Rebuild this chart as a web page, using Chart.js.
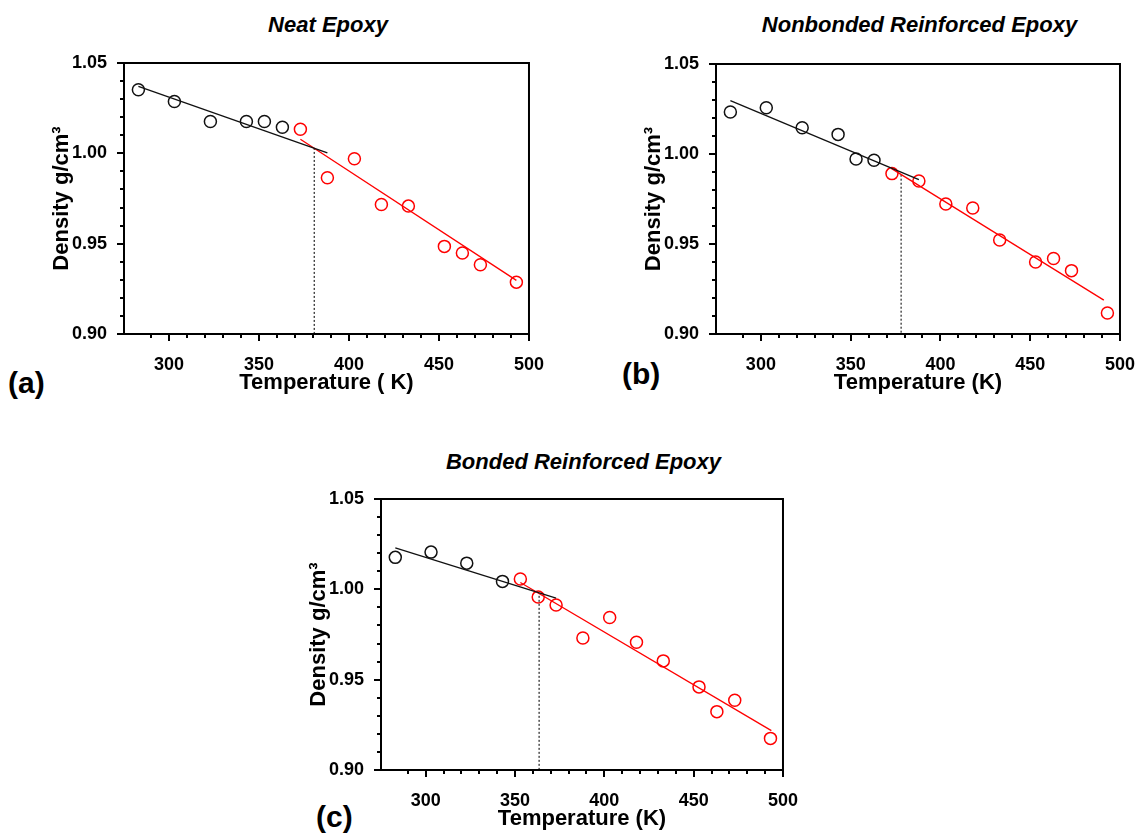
<!DOCTYPE html>
<html lang="en">
<head>
<meta charset="UTF-8">
<title>Density vs Temperature</title>
<script src="https://cdn.jsdelivr.net/npm/chart.js"></script>
<style>
  body { margin: 0; background: #fff; }
  #page { position: relative; width: 1141px; height: 837px; overflow: hidden; font-family: "Liberation Sans", Arial, sans-serif; }
  canvas { position: absolute; }
  .title { position: absolute; font-weight: bold; font-style: italic; font-size: 22px; line-height: 24px; text-align: center; }
  .tag { position: absolute; font-weight: bold; font-size: 30px; line-height: 1; }
</style>
</head>
<body>
<div id="page">
  <div class="title" style="left:124px; top:13px; width:408px">Neat Epoxy</div>
  <div class="title" style="left:716px; top:13px; width:407px">Nonbonded Reinforced Epoxy</div>
  <div class="title" style="left:381px; top:450px; width:405px">Bonded Reinforced Epoxy</div>
  <div class="tag" style="left:8px; top:368px">(a)</div>
  <div class="tag" style="left:622px; top:359px">(b)</div>
  <div class="tag" style="left:316px; top:802px">(c)</div>
  <canvas id="chartA"></canvas>
  <canvas id="chartB"></canvas>
  <canvas id="chartC"></canvas>
</div>

<script>
// temperatures (K) shared by all three samples
const temperature = [283, 303, 323, 343, 353, 363, 373, 388, 403, 418, 433, 453, 463, 473, 493];

// densities g/cm3
const neatDensity = [1.0352, 1.0287, 1.0176, 1.0176, 1.0176, 1.0144, 1.0133, 0.9865, 0.9970, 0.9717, 0.9708, 0.9485, 0.9448, 0.9383, 0.9287];
const nonbondedDensity = [1.0233, 1.0257, 1.0146, 1.0109, 0.9972, 0.9965, 0.9891, 0.9850, 0.9722, 0.9700, 0.9522, 0.9400, 0.9419, 0.9352, 0.9117];
const bondedDensity = [1.0177, 1.0206, 1.0145, 1.0044, 1.0057, 0.9957, 0.9913, 0.9731, 0.9844, 0.9707, 0.9604, 0.9460, 0.9323, 0.9386, 0.9175];

// number of leading points drawn black (glassy side)
const neatGlassyCount = 6;
const nonbondedGlassyCount = 6;
const bondedGlassyCount = 4;

// fitted line end points [T, density]
const neatGlassyFit = [[283, 1.0370], [388, 1.0003]];
const neatRubberyFit = [[373, 1.0078], [493, 0.9297]];
const nonbondedGlassyFit = [[283, 1.0296], [388, 0.9858]];
const nonbondedRubberyFit = [[372.6, 0.9920], [491, 0.9188]];
const bondedGlassyFit = [[283, 1.0230], [373, 0.9951]];
const bondedRubberyFit = [[353, 1.0038], [493.5, 0.9218]];

// Tg marker [T, density at the top of the dotted line]
const neatTg = [380.7, 1.0030];
const nonbondedTg = [378.1, 0.9885];
const bondedTg = [363.5, 0.9964];

const xTickLabels = [300, 350, 400, 450, 500];
const yTickLabels = [0.90, 0.95, 1.00, 1.05];

const FONT = '"Liberation Sans", Arial, sans-serif';

// box frame + outward ticks (major longer than minor)
const frameAndTicks = {
  id: 'frameAndTicks',
  afterDraw(chart) {
    const { ctx, chartArea: a, scales: { x, y } } = chart;
    ctx.save();
    ctx.strokeStyle = '#000';
    ctx.lineWidth = 2;
    ctx.strokeRect(a.left, a.top, a.right - a.left, a.bottom - a.top);
    ctx.beginPath();
    x.ticks.forEach(t => {
      const px = Math.round(x.getPixelForValue(t.value));
      ctx.moveTo(px, a.bottom);
      ctx.lineTo(px, a.bottom + (t.label ? 7 : 4));
    });
    y.ticks.forEach(t => {
      const py = Math.round(y.getPixelForValue(t.value));
      ctx.moveTo(a.left, py);
      ctx.lineTo(a.left - (t.label ? 7 : 4), py);
    });
    ctx.stroke();
    ctx.restore();
  }
};

function toPoints(list) {
  return list.map(p => ({ x: p[0], y: p[1] }));
}

function makePanel(id, box, xTitle, density, glassyCount, glassyFit, rubberyFit, tg) {
  const canvas = document.getElementById(id);
  const padL = 110, padT = 20, padR = 24, padB = 80;
  canvas.width = box.w + padL + padR;
  canvas.height = box.h + padT + padB;
  canvas.style.left = (box.x - padL) + 'px';
  canvas.style.top = (box.y - padT) + 'px';

  const pts = temperature.map((t, i) => ({ x: t, y: density[i] }));
  const circle = {
    showLine: false, pointStyle: 'circle', pointRadius: 6,
    pointBorderWidth: 1.5, backgroundColor: 'rgba(0,0,0,0)'
  };

  new Chart(canvas.getContext('2d'), {
    type: 'scatter',
    data: {
      datasets: [
        { data: toPoints(glassyFit), showLine: true, borderColor: '#111', borderWidth: 1.3, pointRadius: 0 },
        { data: toPoints(rubberyFit), showLine: true, borderColor: '#ff0000', borderWidth: 1.3, pointRadius: 0 },
        { data: [{ x: tg[0], y: tg[1] }, { x: tg[0], y: yTickLabels[0] }], showLine: true,
          borderColor: '#222', borderWidth: 1.2, borderDash: [2, 2], pointRadius: 0 },
        Object.assign({ data: pts.slice(0, glassyCount), borderColor: '#111', pointBorderColor: '#111' }, circle),
        Object.assign({ data: pts.slice(glassyCount), borderColor: '#ff0000', pointBorderColor: '#ff0000' }, circle)
      ]
    },
    options: {
      responsive: false,
      devicePixelRatio: 1,
      animation: false,
      layout: { padding: { left: 34.8, top: padT, right: padR, bottom: padB - 62.6 } },
      plugins: { legend: { display: false }, tooltip: { enabled: false }, title: { display: false } },
      scales: {
        x: {
          type: 'linear', min: 275, max: 500,
          grid: { display: false }, border: { display: false },
          afterBuildTicks: s => { s.ticks = s.ticks.filter(t => Math.abs(t.value % 10) < 1e-6); },
          afterFit: s => { s.height = 62.6; },
          ticks: {
            stepSize: 10, autoSkip: false, maxRotation: 0, padding: 12, color: '#000',
            font: { family: FONT, size: 18, weight: 'bold' },
            callback: v => xTickLabels.includes(v) ? String(v) : ''
          },
          title: { display: true, text: xTitle, color: '#000', padding: 0,
                   font: { family: FONT, size: 22, weight: 'bold' } }
        },
        y: {
          type: 'linear', min: 0.90, max: 1.05,
          grid: { display: false }, border: { display: false },
          afterFit: s => { s.width = padL - 34.8; },
          ticks: {
            stepSize: 0.01, autoSkip: false, padding: 9, color: '#000',
            font: { family: FONT, size: 18, weight: 'bold' },
            callback: v => yTickLabels.some(t => Math.abs(t - v) < 1e-6) ? v.toFixed(2) : ''
          },
          title: { display: true, text: 'Density g/cm\u00b3', color: '#000', padding: 0,
                   font: { family: FONT, size: 22, weight: 'bold' } }
        }
      }
    },
    plugins: [frameAndTicks]
  });
}

makePanel('chartA', { x: 124, y: 63, w: 408, h: 271 }, 'Temperature ( K)',
  neatDensity, neatGlassyCount, neatGlassyFit, neatRubberyFit, neatTg);
makePanel('chartB', { x: 716, y: 64, w: 407, h: 270 }, 'Temperature (K)',
  nonbondedDensity, nonbondedGlassyCount, nonbondedGlassyFit, nonbondedRubberyFit, nonbondedTg);
makePanel('chartC', { x: 381, y: 499, w: 405, h: 271 }, 'Temperature (K)',
  bondedDensity, bondedGlassyCount, bondedGlassyFit, bondedRubberyFit, bondedTg);
</script>
</body>
</html>
